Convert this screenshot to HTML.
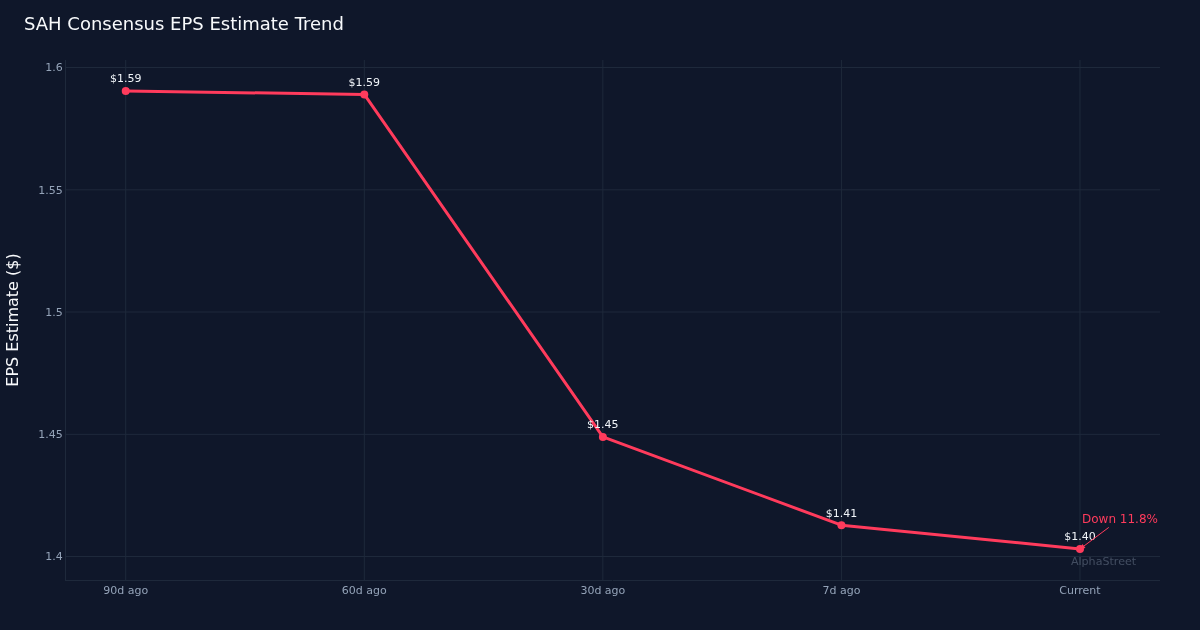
<!DOCTYPE html>
<html><head><meta charset="utf-8"><title>SAH Consensus EPS Estimate Trend</title>
<style>
html,body{margin:0;padding:0;background:#0f172a;}
svg{display:block;font-family:"DejaVu Sans","Liberation Sans",sans-serif;}
</style></head><body>
<svg width="1200" height="630" viewBox="0 0 1200 630">
<rect width="1200" height="630" fill="#0f172a"/>
<g stroke="#1e293b" stroke-width="1" fill="none">
<path d="M125.72,60V580"/>
<path d="M364.29,60V580"/>
<path d="M602.86,60V580"/>
<path d="M841.42,60V580"/>
<path d="M1079.99,60V580"/>
<path d="M65,67.50H1160"/>
<path d="M65,189.80H1160"/>
<path d="M65,312.00H1160"/>
<path d="M65,434.35H1160"/>
<path d="M65,556.50H1160"/>
<path d="M65.5,60V580"/>
<path d="M65,580.5H612.25M612.75,580.5H1160"/>
</g>
<polyline fill="none" stroke="#ff3b5c" stroke-width="3" stroke-linejoin="round" points="125.72,91.00 364.29,94.45 602.86,436.90 841.42,525.15 1079.99,549.00"/>
<g fill="#ff3b5c">
<circle cx="125.72" cy="91.00" r="4"/>
<circle cx="364.29" cy="94.45" r="4"/>
<circle cx="602.86" cy="436.90" r="4"/>
<circle cx="841.42" cy="525.15" r="4"/>
<circle cx="1079.99" cy="549.00" r="4"/>
</g>
<g fill="#f1f5f9" font-size="11">
<text x="110.00" y="82">$1.59</text>
<text x="348.50" y="86">$1.59</text>
<text x="587.00" y="428">$1.45</text>
<text x="825.75" y="517">$1.41</text>
<text x="1064.25" y="540">$1.40</text>
</g>
<g fill="#94a3b8" font-size="11" text-anchor="end">
<text x="62.85" y="71">1.6</text>
<text x="62.85" y="194">1.55</text>
<text x="62.85" y="316">1.5</text>
<text x="62.85" y="438">1.45</text>
<text x="62.85" y="560">1.4</text>
</g>
<g fill="#94a3b8" font-size="11" text-anchor="middle">
<text x="125.72" y="594">90d ago</text>
<text x="364.29" y="594">60d ago</text>
<text x="602.86" y="594">30d ago</text>
<text x="841.42" y="594">7d ago</text>
<text x="1079.99" y="594">Current</text>
</g>
<text x="24" y="30" fill="#f8fafc" font-size="18">SAH Consensus EPS Estimate Trend</text>
<text transform="translate(18,320) rotate(-90)" fill="#f8fafc" font-size="16" text-anchor="middle">EPS Estimate ($)</text>
<path d="M1108.79,527.40L1081.03,548.22" stroke="#ff3b5c" stroke-width="1" fill="none"/>
<path d="M-5,-2.5V2.5L0,0Z" fill="#ff3b5c" transform="translate(1079.99,549.00) rotate(143.13)"/>
<text x="1119.99" y="523" fill="#ff3b5c" font-size="12" text-anchor="middle">Down 11.8%</text>
<text x="1070.9" y="565" fill="#94a3b8" font-size="11.1" opacity="0.38">AlphaStreet</text>
</svg>
</body></html>
